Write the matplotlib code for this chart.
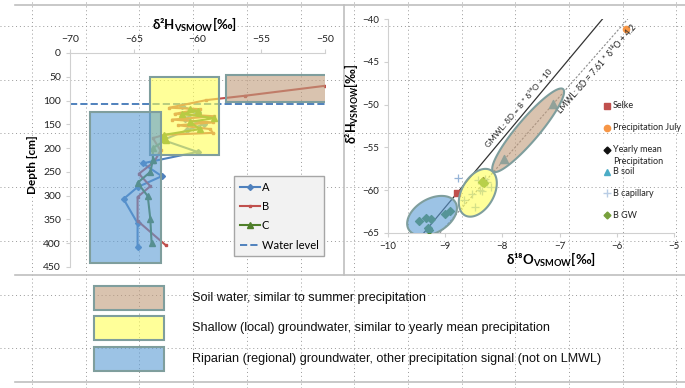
import matplotlib
matplotlib.use('Agg')
import matplotlib.pyplot as plt
from matplotlib.lines import Line2D
from matplotlib.patches import Rectangle, Polygon
import numpy as np

plt.rcParams['font.family'] = ['Lato', 'DejaVu Sans']
plt.rcParams['mathtext.fontset'] = 'custom'
plt.rcParams['mathtext.rm'] = 'Lato'
plt.rcParams['mathtext.bf'] = 'Lato:bold'

# ---- left panel: depth profiles of d2H ----
depth_A = [112, 125, 138, 150, 162, 183, 208, 232, 259, 282, 307, 358, 408]
d2H_A = [-61.2, -60.0, -61.0, -59.5, -60.8, -62.7, -60.0, -64.3, -62.8, -64.7, -65.8, -64.7, -64.7]

depth_B = [69, 90, 99, 115, 118, 128, 133, 140, 146, 152, 160, 168, 172, 179, 205, 229, 254, 280, 303, 353, 404]
d2H_B = [-50.0, -56.3, -59.3, -62.2, -59.8, -61.8, -58.7, -62.0, -58.8, -61.5, -59.0, -58.8, -62.6,
         -63.5, -62.9, -63.4, -64.6, -63.7, -64.7, -64.7, -62.5]

depth_C = [118, 122, 128, 137, 145, 160, 172, 176, 183, 200, 225, 250, 273, 301, 349, 400]
d2H_C = [-60.6, -60.0, -61.2, -58.7, -60.6, -59.8, -62.6, -62.7, -62.5, -63.5, -63.5, -63.7, -64.7,
         -63.9, -63.7, -63.6]

water_level = 108

# zones in the profile plot: (x0, x1, depth0, depth1)
zone_soil = (-57.8, -49.8, 46, 103)
zone_shallow = (-63.7, -58.3, 50, 214)
zone_riparian = (-68.4, -62.9, 124, 441)

# ---- right panel: dual isotope plot ----
selke_x, selke_y = [-8.8], [-60.3]
july_x, july_y = [-5.84], [-41.2]
yearly_x, yearly_y = [-8.34], [-58.9]
bsoil_x = [-7.97, -7.11]
bsoil_y = [-56.4, -49.9]
bcap_x = [-8.77, -8.67, -8.53, -8.48, -8.40, -8.35, -8.43, -8.30, -8.20, -8.27]
bcap_y = [-58.6, -61.2, -60.4, -62.0, -60.0, -60.1, -58.8, -58.7, -59.6, -59.0]
bgw_x = [-9.46, -9.34, -9.25, -9.30, -9.28, -9.00, -8.92, -8.36, -8.32]
bgw_y = [-63.6, -63.3, -63.4, -64.4, -64.7, -62.8, -62.4, -59.0, -59.2]

gmwl = (8.0, 10.0)
lmwl = (7.61, 4.2)

c_soil = (192/255, 155/255, 123/255)
c_shallow = (1.0, 1.0, 85/255)
c_rip = (91/255, 155/255, 213/255)
c_edge = '#7f9e9d'
zalpha = 0.6

W, H = 685, 388
fig = plt.figure(figsize=(W/100, H/100), dpi=100)

def fx(px):
    return px / W

def fy(py):
    return 1 - py / H

# background dotted grid (slide grid)
for k in range(13):
    x = fx(32 + 53.7*k)
    fig.add_artist(Line2D([x, x], [0, 1], color='#999999', lw=0.7, ls=(0, (1, 3)), zorder=0))
for k in range(7):
    y = fy(26 + 53.7*k)
    fig.add_artist(Line2D([0, 1], [y, y], color='#999999', lw=0.7, ls=(0, (1, 3)), zorder=0))

# frame lines
fc = '#bfbfbf'
fig.add_artist(Line2D([fx(15), 1], [fy(5), fy(5)], color=fc, lw=1.2))
fig.add_artist(Line2D([fx(344), fx(344)], [fy(5), fy(275)], color=fc, lw=1.2))
fig.add_artist(Line2D([fx(15), 1], [fy(275), fy(275)], color=fc, lw=1.2))
fig.add_artist(Line2D([fx(15), 1], [fy(382), fy(382)], color=fc, lw=1.2))

# ================= left panel =================
ax1 = fig.add_axes([fx(70), fy(267), fx(255), 214/H])
ax1.patch.set_alpha(0)
ax1.plot(d2H_A, depth_A, color='#4f81bd', marker='D', ms=3, lw=1.5, label='A', zorder=3)
ax1.plot(d2H_B, depth_B, color='#c0504d', marker='s', ms=1.6, lw=1.5, label='B', zorder=3)
ax1.plot(d2H_C, depth_C, color='#4f7f2a', marker='^', ms=3.8, lw=1.5, label='C', zorder=3)
ax1.plot([-70, -50], [water_level, water_level], color='#4f81bd', ls='--', lw=1.4,
         label='Water level', zorder=2)
for (x0, x1, d0, d1), c in [(zone_soil, c_soil), (zone_shallow, c_shallow), (zone_riparian, c_rip)]:
    ax1.add_patch(Rectangle((x0, d0), x1 - x0, d1 - d0, facecolor=c, alpha=zalpha,
                            edgecolor='none', zorder=4))
    ax1.add_patch(Rectangle((x0, d0), x1 - x0, d1 - d0, facecolor='none',
                            edgecolor=c_edge, lw=1.5, zorder=4))
ax1.set_xlim(-70, -50)
ax1.set_ylim(450, 0)
ax1.set_xticks(np.arange(-70, -49, 5))
ax1.set_yticks(np.arange(0, 451, 50))
ax1.xaxis.tick_top()
for s in ['right', 'bottom']:
    ax1.spines[s].set_visible(False)
for s in ['top', 'left']:
    ax1.spines[s].set_color('#d0d0d0')
ax1.tick_params(colors='#d0d0d0', labelcolor='#222222', labelsize=7.5, length=3)
fig.text(fx(195), fy(25), 'δ²H' + r'$_{\mathbf{VSMOW}}$' + '[‰]', ha='center', va='center',
         fontsize=9.5, fontweight='bold')
fig.text(fx(33), fy(165), 'Depth [cm]', rotation=90, ha='center', va='center',
         fontsize=8.5, fontweight='bold')
leg = ax1.legend(loc='upper left', bbox_to_anchor=(fx(234), fy(176)), bbox_transform=fig.transFigure,
                 borderaxespad=0, fontsize=8, frameon=True, fancybox=False, facecolor='#f2f2f2',
                 edgecolor='#a6a6a6', framealpha=1, labelspacing=0.75, handlelength=1.8,
                 handletextpad=0.2, borderpad=0.5)
leg.set_zorder(10)

# ================= right panel =================
ax2 = fig.add_axes([fx(388), fy(233), fx(286), 214/H])
ax2.patch.set_alpha(0)
ax2.set_xlim(-10, -5)
ax2.set_ylim(-65, -40)
m, b = gmwl
xg = np.array([(-65 - b)/m, (-40 - b)/m])
ax2.plot(xg, m*xg + b, color='#333333', lw=0.9, zorder=2)
m2, b2 = lmwl
xl = np.array([(-65 - b2)/m2, (-40 - b2)/m2])
ax2.plot(xl, m2*xl + b2, color='#8c8c8c', lw=0.8, ls=(0, (2, 1.5)), zorder=2)

ax2.scatter(selke_x, selke_y, marker='s', s=22, color='#c0504d', zorder=3)
ax2.scatter(july_x, july_y, marker='o', s=20, color='#f79646', zorder=3)
ax2.scatter(yearly_x, yearly_y, marker='D', s=16, color='#111111', zorder=3)
ax2.scatter(bsoil_x, bsoil_y, marker='^', s=34, color='#4bacc6', zorder=3)
ax2.scatter(bcap_x, bcap_y, marker='+', s=36, color='#95b3d7', lw=0.9, zorder=3)
ax2.scatter(bgw_x, bgw_y, marker='D', s=16, color='#4f8a3c', zorder=3)

def ellipse(ax, cx, cy, a_px, b_px, ang):
    t = np.linspace(0, 2*np.pi, 200)
    c = ax.transData.transform((cx, cy))
    th = np.deg2rad(ang)
    x = c[0] + a_px*np.cos(t)*np.cos(th) - b_px*np.sin(t)*np.sin(th)
    y = c[1] + a_px*np.cos(t)*np.sin(th) + b_px*np.sin(t)*np.cos(th)
    return ax.transData.inverted().transform(np.column_stack([x, y]))

for (cx, cy, a, bb, ang), c in [((-7.55, -53.0, 54, 11, 49.7), c_soil),
                                ((-8.43, -60.3, 26, 16, 60), c_shallow),
                                ((-9.23, -63.0, 27, 17, 30), c_rip)]:
    pts = ellipse(ax2, cx, cy, a, bb, ang)
    ax2.add_patch(Polygon(pts, facecolor=c, alpha=zalpha, edgecolor='none', zorder=4))
    ax2.add_patch(Polygon(pts, facecolor='none', edgecolor=c_edge, lw=1.5, zorder=4))

# line labels, shifted off the lines
ang_g = np.degrees(np.arctan(m * 8.56 / 57.2))
ang_l = np.degrees(np.arctan(m2 * 8.56 / 57.2))
xg0 = -7.62
ax2.annotate('GMWL: δD = 8 * δ¹⁸O + 10', xy=(xg0, m*xg0 + b), xytext=(-5.5, 4.6),
             textcoords='offset pixels', rotation=ang_g, fontsize=6, ha='center', va='center',
             color='#222222', rotation_mode='anchor')
xl0 = -6.47
ax2.annotate('LMWL: δD = 7.61 * δ¹⁸O + 4.2', xy=(xl0, m2*xl0 + b2), xytext=(7.5, -6.6),
             textcoords='offset pixels', rotation=ang_l, fontsize=6.2, ha='center', va='center',
             color='#222222', rotation_mode='anchor')

ax2.set_xticks(np.arange(-10, -4.9, 1))
ax2.set_yticks(np.arange(-65, -39, 5))
for s in ['right', 'top']:
    ax2.spines[s].set_visible(False)
for s in ['bottom', 'left']:
    ax2.spines[s].set_color('#d0d0d0')
ax2.tick_params(colors='#d0d0d0', labelcolor='#222222', labelsize=7, length=3)
fig.text(fx(551), fy(260), 'δ¹⁸O' + r'$_{\mathbf{VSMOW}}$' + '[‰]', ha='center', va='center',
         fontsize=9.5, fontweight='bold')
fig.text(fx(352), fy(104), 'δ²H' + r'$_{\mathbf{VSMOW}}$' + '[‰]', rotation=90, ha='center',
         va='center', fontsize=9, fontweight='bold')

# right legend, drawn by hand (Excel-like spacing)
leg_items = [('s', '#c0504d', ['Selke'], 106, 4.5),
             ('o', '#f79646', ['Precipitation July'], 128, 4.5),
             ('D', '#111111', ['Yearly mean', 'Precipitation'], 150, 3.5),
             ('^', '#4bacc6', ['B soil'], 172, 5),
             ('+', '#b9cde5', ['B capillary'], 193, 6),
             ('D', '#77a03c', ['B GW'], 215, 3.5)]
for mk, col, labs, py, ms in leg_items:
    fig.add_artist(Line2D([fx(607)], [fy(py)], marker=mk, ms=ms, color=col, ls='none', mew=1))
    for i, lab in enumerate(labs):
        fig.text(fx(613), fy(py + 11*i), lab, ha='left', va='center', fontsize=6.5, color='#222222')

# ================= bottom legend =================
zones_text = ['Soil water, similar to summer precipitation',
              'Shallow (local) groundwater, similar to yearly mean precipitation',
              'Riparian (regional) groundwater, other precipitation signal (not on LMWL)']
for (y0, txt, c) in zip([286, 316, 347], zones_text, [c_soil, c_shallow, c_rip]):
    fig.add_artist(Rectangle((fx(94), fy(y0 + 24)), fx(70), 24/H, facecolor=c, alpha=zalpha,
                             edgecolor='none', transform=fig.transFigure))
    fig.add_artist(Rectangle((fx(94), fy(y0 + 24)), fx(70), 24/H, facecolor='none',
                             edgecolor=c_edge, lw=1.5, transform=fig.transFigure))
    fig.text(fx(192), fy(y0 + 12), txt, ha='left', va='center', fontsize=9.1,
             family='Liberation Sans', color='#111111')

fig.savefig('out.png', dpi=100)
